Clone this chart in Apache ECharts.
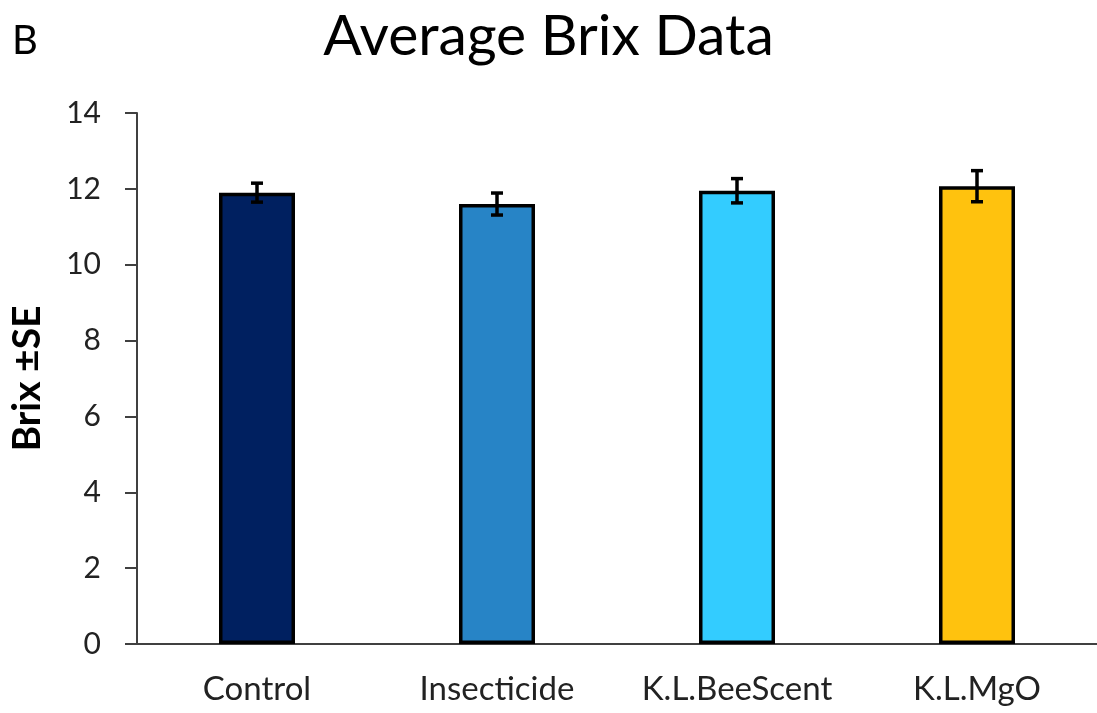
<!DOCTYPE html>
<html>
<head>
<meta charset="utf-8">
<script src="https://cdn.jsdelivr.net/npm/echarts@6/dist/echarts.min.js"></script>
<style>
  html, body { margin: 0; padding: 0; background: #fff; }
  #chart { width: 1097px; height: 713px; }
</style>
</head>
<body>
<div id="chart"></div>
<script>
// Treatments and their mean Brix readings with standard errors
const categories = ['Control', 'Insecticide', 'K.L.BeeScent', 'K.L.MgO'];
const brixMean = [11.9, 11.6, 11.95, 12.07];
const brixSE = [0.25, 0.29, 0.32, 0.41];
const barColors = ['#002060', '#2784C6', '#33CCFF', '#FFC20E'];
const yTicks = [0, 2, 4, 6, 8, 10, 12, 14];

const FONT = 'Lato, "Open Sans", sans-serif';
const chart = echarts.init(document.getElementById('chart'), null, { renderer: 'canvas' });

const errorData = categories.map((c, i) => [i, brixMean[i] - brixSE[i], brixMean[i] + brixSE[i]]);

chart.setOption({
  animation: false,
  backgroundColor: '#ffffff',
  title: [
    {
      text: 'Average Brix Data',
      left: 'center',
      top: 3,
      textStyle: { fontFamily: FONT, fontSize: 57, fontWeight: 'normal', color: '#000' }
    },
    {
      text: 'B',
      left: 7,
      top: 16,
      textStyle: { fontFamily: FONT, fontSize: 40, fontWeight: 'normal', color: '#000' }
    }
  ],
  grid: { left: 134, top: 113, width: 972, height: 531 },
  xAxis: {
    type: 'category',
    data: categories,
    axisLine: { lineStyle: { color: '#404040', width: 2 } },
    axisTick: { show: false },
    axisLabel: { interval: 0, hideOverlap: false, fontFamily: FONT, fontSize: 33, color: '#222', margin: 29 }
  },
  yAxis: {
    type: 'value',
    min: yTicks[0],
    max: yTicks[yTicks.length - 1],
    interval: 2,
    name: 'Brix ±SE',
    nameLocation: 'middle',
    nameGap: 90,
    nameTextStyle: { fontFamily: FONT, fontSize: 39, fontWeight: 'bold', color: '#000' },
    axisLine: { show: true, lineStyle: { color: '#404040', width: 2 } },
    axisTick: { show: true, inside: false, length: 12, lineStyle: { color: '#404040', width: 2 } },
    splitLine: { show: false },
    axisLabel: { fontFamily: FONT, fontSize: 30, color: '#222', margin: 36 }
  },
  series: [
    {
      type: 'bar',
      data: brixMean.map((v, i) => ({ value: v, itemStyle: { color: barColors[i] } })),
      barWidth: 76,
      itemStyle: { borderColor: '#000', borderWidth: 3.5 },
      z: 2
    },
    {
      type: 'custom',
      data: errorData,
      z: 5,
      renderItem: function (params, api) {
        const x = api.value(0);
        const lo = api.coord([x, api.value(1)]);
        const hi = api.coord([x, api.value(2)]);
        const half = 6;
        const style = { stroke: '#000', lineWidth: 3.5 };
        return {
          type: 'group',
          children: [
            { type: 'line', shape: { x1: lo[0], y1: lo[1], x2: hi[0], y2: hi[1] }, style },
            { type: 'line', shape: { x1: hi[0] - half, y1: hi[1], x2: hi[0] + half, y2: hi[1] }, style },
            { type: 'line', shape: { x1: lo[0] - half, y1: lo[1], x2: lo[0] + half, y2: lo[1] }, style }
          ]
        };
      }
    }
  ]
});
</script>
</body>
</html>
